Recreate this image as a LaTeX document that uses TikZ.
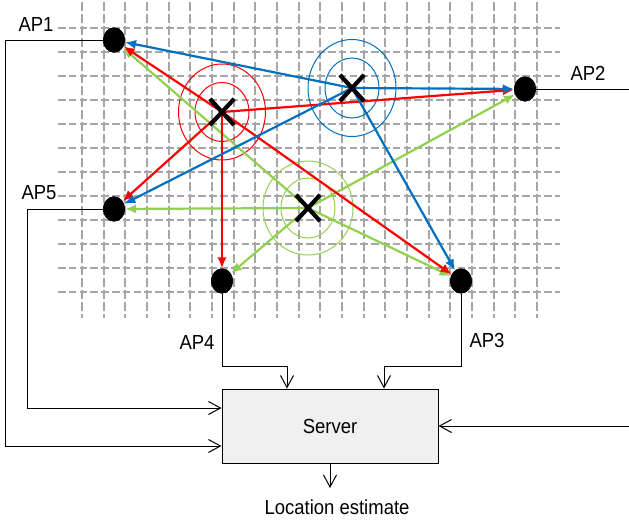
\documentclass[tikz,border=0pt]{standalone}
\usepackage{fontspec}
\setmainfont{Liberation Sans}
\usetikzlibrary{arrows.meta,shapes.geometric,shapes.misc}
\definecolor{gridgray}{HTML}{A6A6A6}
\definecolor{cred}{HTML}{FF0000}
\definecolor{cblue}{HTML}{0070C0}
\definecolor{cgreen}{HTML}{92D050}
\definecolor{srvfill}{HTML}{F0F0F0}
\newcommand{\lbltext}[1]{\scalebox{1}[1.1]{#1}}
\begin{document}
\begin{tikzpicture}[x=1pt,y=-1pt,
 ap/.style={ellipse, fill=black, minimum width=22pt, minimum height=25pt, inner sep=0pt},
 lbl/.style={font=\fontsize{18.5}{22}\selectfont, inner sep=0pt},
 hgrid/.style={gridgray, line width=2.3pt, dash pattern=on 7.5pt off 3.3pt},
 vgrid/.style={gridgray, line width=2.3pt, dash pattern=on 8.5pt off 3.5pt},
 sig/.style={line width=2.2pt, -{Latex[length=11pt,width=9.5pt]}},
 ring/.style={line width=1pt},
 conn/.style={line width=1pt, -{Straight Barb[length=12pt,width=13pt,line width=1pt]}},
 xnode/.style={cross out, draw=black, line width=4.2pt, minimum width=20pt, minimum height=22pt, inner sep=0pt},
]
\useasboundingbox (0,0) rectangle (629,520);

% grid
\foreach \i in {0,...,11} \draw[hgrid] (58,28+24*\i) -- (560,28+24*\i);
\foreach \j in {0,...,21} \draw[vgrid] (82+21.667*\j,2) -- (82+21.667*\j,318);

% access points
\node[ap] (ap1) at (114,40) {};
\node[ap] (ap2) at (525,89) {};
\node[ap] (ap3) at (461,281) {};
\node[ap] (ap4) at (222,281) {};
\node[ap] (ap5) at (114,209) {};

\node[lbl] (l1) at (36,24) {\lbltext{AP1}};
\node[lbl] (l2) at (588,73) {\lbltext{AP2}};
\node[lbl] (l3) at (487,340) {\lbltext{AP3}};
\node[lbl] (l4) at (197,342) {\lbltext{AP4}};
\node[lbl] (l5) at (39,193) {\lbltext{AP5}};

% position marks
\coordinate (cr) at (222,112);
\coordinate (cb) at (352,88);
\coordinate (cg) at (308,208);

% rings
\draw[cred, ring] (cr) ellipse [x radius=43.5, y radius=48];
\draw[cred, ring] (cr) ellipse [x radius=27, y radius=29.5];
\draw[cblue, ring] (cb) ellipse [x radius=44, y radius=48.5];
\draw[cblue, ring] (cb) ellipse [x radius=27, y radius=30];
\draw[cgreen, ring] (cg) ellipse [x radius=45, y radius=47];
\draw[cgreen, ring] (cg) ellipse [x radius=27, y radius=30];

% signals
\draw[sig, cgreen] (cg) -- (ap1);
\draw[sig, cgreen] (cg) -- (ap2);
\draw[sig, cgreen] (cg) -- (ap3);
\draw[sig, cgreen] (cg) -- (ap4);
\draw[sig, cgreen] (cg) -- (ap5);
\draw[sig, cred] (cr) -- (ap1);
\draw[sig, cred] (cr) -- (ap2);
\draw[sig, cred] (cr) -- (ap3);
\draw[sig, cred] (cr) -- (ap4);
\draw[sig, cred] (cr) -- (ap5);
\draw[sig, cblue] (cb) -- (ap1);
\draw[sig, cblue] (cb) -- (ap2);
\draw[sig, cblue] (cb) -- (ap3);
\draw[sig, cblue] (cb) -- (ap5);

\node[xnode] (xr) at (cr) {};
\node[xnode] (xb) at (cb) {};
\node[xnode] (xg) at (cg) {};

% redraw AP dots on top
\fill (ap1) ellipse [x radius=11, y radius=12.5];
\fill (ap2) ellipse [x radius=11, y radius=12.5];
\fill (ap3) ellipse [x radius=11, y radius=12.5];
\fill (ap4) ellipse [x radius=11, y radius=12.5];
\fill (ap5) ellipse [x radius=11, y radius=12.5];

% server
\node[draw, fill=srvfill, line width=1pt, minimum width=216pt, minimum height=74pt, inner sep=0pt, font=\fontsize{18.5}{22}\selectfont] (srv) at (330,426) {\lbltext{Server}};
\node[lbl] (loc) at (337,507) {\lbltext{Location estimate}};
\coordinate (outend) at (330,488);

\draw[conn] (ap1.west) -| (5,446) -- ([yshift=-20pt]srv.west);
\draw[conn] (ap5.west) -| (27,408) -- ([yshift=18pt]srv.west);
\draw[conn] (ap4.south) |- (287,366) -- ([xshift=-43pt]srv.north);
\draw[conn] (ap3.south) |- (384,366) -- ([xshift=54pt]srv.north);
\draw[conn] (ap2.east) -| (632,426) -- (srv.east);
\draw[conn] (srv.south) -- (outend);
\end{tikzpicture}
\end{document}
